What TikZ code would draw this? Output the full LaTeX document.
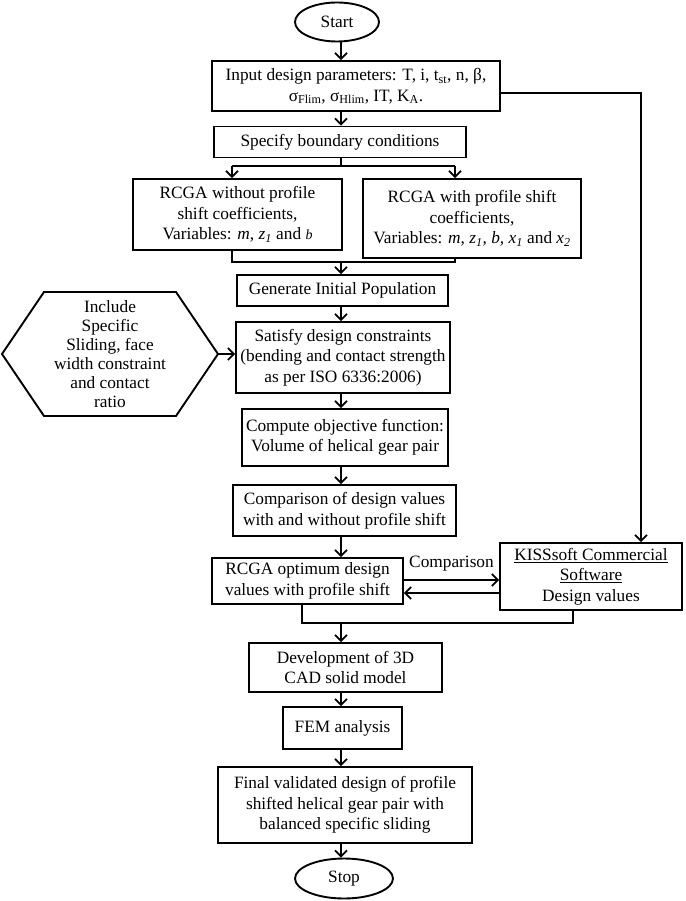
\documentclass[tikz,border=0pt]{standalone}
\usepackage{fontspec}
\setmainfont{Liberation Serif}
\usetikzlibrary{arrows.meta,calc,shapes.geometric}
\begin{document}
\begin{tikzpicture}[x=1pt,y=-1pt,
  box/.style={draw, line width=1.9pt, align=center, inner sep=0pt,
    font=\fontsize{17.3}{20.5}\selectfont},
  term/.style={draw, ellipse, line width=1.9pt, inner sep=0pt,
    font=\fontsize{17.3}{20.5}\selectfont},
  arr/.style={line width=1.7pt, -{Straight Barb[length=6pt,width=12pt]}},
  ln/.style={line width=1.7pt},
  lbl/.style={font=\fontsize{17.3}{20.5}\selectfont, inner sep=0pt}]
\useasboundingbox (0,0) rectangle (685,901);
\coordinate (ax) at (341,0);
\coordinate (kx) at (641,0);

\node[term, minimum width=84pt, minimum height=39pt] (start) at (337,22) {Start};
\node[box, minimum width=288pt, minimum height=50pt] (input) at (356,86)
  {Input design parameters: T, i, t\textsubscript{st}, n, β,\\
   σ\textsubscript{Flim}, σ\textsubscript{Hlim}, IT, K\textsubscript{A}.};
\node[box, minimum width=252pt, minimum height=31pt] (spec) at (340,142) {Specify boundary conditions};
\node[box, minimum width=209pt, minimum height=71pt] (left) at (237.5,214.5)
  {RCGA without profile\\ shift coefficients,\\ Variables: \textit{m, z\textsubscript{1}} and {\fontsize{14}{16}\selectfont\textit{b}}};
\node[box, minimum width=218pt, minimum height=79pt] (right) at (472,218.5)
  {RCGA with profile shift\\ coefficients,\\ Variables: \textit{m, z\textsubscript{1}, b, x\textsubscript{1}} and \textit{x\textsubscript{2}}};
\node[box, minimum width=211pt, minimum height=31pt] (gen) at (342.5,290.5) {Generate Initial Population};
\node[box, minimum width=214pt, minimum height=71pt] (sat) at (343,357.5)
  {Satisfy design constraints\\ (bending and contact strength\\ as per ISO 6336:2006)};
\draw[line width=1.9pt, line join=miter] (2,354) -- (44,292) -- (176,292) -- (218,354) -- (176,416) -- (44,416) -- cycle;
\coordinate (hexR) at (218,354);
\node[lbl, align=center, font=\fontsize{17.3}{19}\selectfont] (hex) at (110,354)
  {Include\\ Specific\\ Sliding, face\\ width constraint\\ and contact\\ ratio};
\node[box, minimum width=206pt, minimum height=57pt] (comp) at (345,437.5)
  {Compute objective function:\\ Volume of helical gear pair};
\node[box, minimum width=223pt, minimum height=51pt] (cmpd) at (344.5,510.5)
  {Comparison of design values\\ with and without profile shift};
\node[box, minimum width=191pt, minimum height=46pt] (opt) at (307.5,581)
  {RCGA optimum design\\ values with profile shift};
\node[box, minimum width=182pt, minimum height=67pt] (kiss) at (591,576.5)
  {\underline{KISSsoft Commercial}\\ \underline{Software}\\ Design values};
\node[box, minimum width=193pt, minimum height=49pt] (dev) at (345.5,667.5)
  {Development of 3D\\ CAD solid model};
\node[box, minimum width=119pt, minimum height=42pt] (fem) at (342.5,728) {FEM analysis};
\node[box, minimum width=254pt, minimum height=76pt] (fin) at (345,805)
  {Final validated design of profile\\ shifted helical gear pair with\\ balanced specific sliding};
\node[term, minimum width=98pt, minimum height=40pt] (stop) at (344,878.5) {Stop};

% connectors
\draw[arr] (start.south -| ax) -- (input.north -| ax);
\draw[arr] (input.south -| ax) -- (spec.north -| ax);
\coordinate (sL) at (232,166);
\coordinate (sR) at (455,166);
\draw[ln] (spec.south -| ax) -- (ax |- sL);
\draw[ln] (sL) -- (sR);
\draw[arr] (sL) -- (left.north -| sL);
\draw[arr] (sR) -- (right.north -| sR);
\coordinate (mL) at (232,262);
\coordinate (mR) at (455,262);
\draw[ln] (left.south -| mL) -- (mL) -- (mR) -- (right.south -| mR);
\draw[arr] (ax |- mL) -- (gen.north -| ax);
\draw[arr] (gen.south -| ax) -- (sat.north -| ax);
\draw[arr] (hexR) -- (sat.west |- hexR);
\draw[arr] (sat.south -| ax) -- (comp.north -| ax);
\draw[arr] (comp.south -| ax) -- (cmpd.north -| ax);
\draw[arr] (cmpd.south -| ax) -- (opt.north -| ax);
\coordinate (ky) at (0,93);
\draw[arr] (input.east |- ky) -| (kiss.north -| kx);
\coordinate (c1) at (0,580);
\coordinate (c2) at (0,593);
\draw[arr] (opt.east |- c1) -- node[lbl, midway, above=8pt] (cmpl) {Comparison} (kiss.west |- c1);
\draw[arr] (kiss.west |- c2) -- (opt.east |- c2);
\coordinate (nL) at (302,623);
\coordinate (nR) at (573,623);
\draw[ln] (opt.south -| nL) -- (nL) -- (nR) -- (kiss.south -| nR);
\draw[arr] (ax |- nL) -- (dev.north -| ax);
\draw[arr] (dev.south -| ax) -- (fem.north -| ax);
\draw[arr] (fem.south -| ax) -- (fin.north -| ax);
\draw[arr] (fin.south -| ax) -- (stop.north -| ax);
\end{tikzpicture}
\end{document}
